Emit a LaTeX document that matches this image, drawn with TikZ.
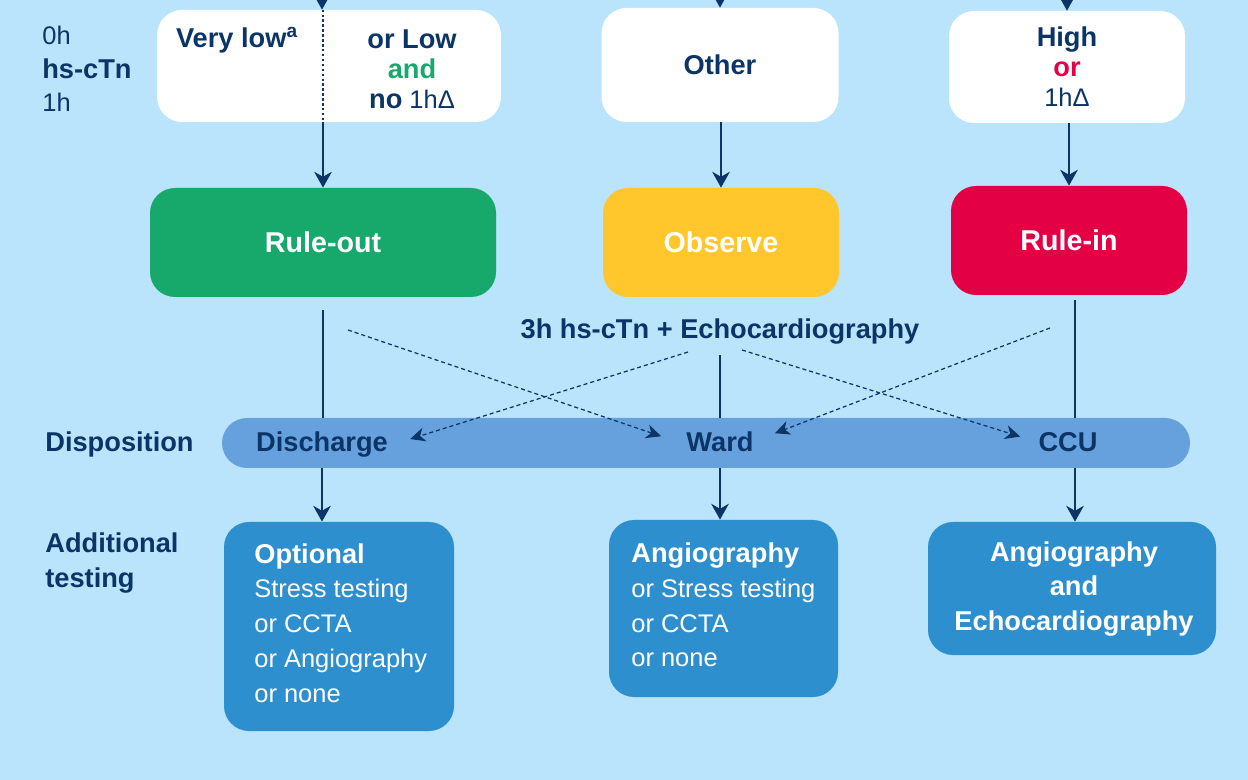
\documentclass[tikz,border=0pt]{standalone}
\usepackage{fontspec}
\setmainfont{Liberation Sans}
\usepackage{tikz}
\usetikzlibrary{arrows.meta}
\definecolor{bgblue}{HTML}{BAE3FC}
\definecolor{navy}{HTML}{0B3467}
\definecolor{outgreen}{HTML}{17A96C}
\definecolor{obsyellow}{HTML}{FFC72C}
\definecolor{inred}{HTML}{E30045}
\definecolor{barblue}{HTML}{66A1DE}
\definecolor{testblue}{HTML}{2E8FCF}
\newdimen\px \px=0.02cm
\def\txtsize{\fontsize{14.5}{17}\selectfont}
\def\boldsize{\fontsize{15.5}{17}\selectfont\bfseries}
\newcommand{\bt}[1]{{\boldsize #1}}

\begin{document}
\begin{tikzpicture}[x=0.02cm, y=-0.02cm,
    txt/.style={text=navy, inner sep=0pt, font=\txtsize},
    hdr/.style={txt, font=\boldsize},
    inbox/.style={rectangle, rounded corners=25\px, fill=white, inner sep=0pt, align=center, txt},
    result/.style={rectangle, rounded corners=25\px, inner sep=0pt, text=white,
        font=\fontsize{16.3}{19}\selectfont\bfseries, minimum width=236\px, minimum height=109\px},
    testbox/.style={rectangle, rounded corners=25\px, fill=testblue, inner sep=0pt},
    testtxt/.style={text=white, inner sep=0pt, font=\fontsize{14.5}{19.8}\selectfont},
    flow/.style={draw=navy, line width=1.2pt, -{Stealth[length=9pt, width=10pt, inset=2.8pt]}},
    link/.style={draw=navy, line width=1.2pt},
    cross/.style={draw=navy, line width=0.7pt, dash pattern=on 2.3pt off 1.7pt,
        -{Stealth[length=8.5pt, width=8pt, inset=2.6pt]}}]
        \fill[bgblue] (0,0) rectangle (1248,780);
        \useasboundingbox (0,0) rectangle (1248,780);

        % row labels
        \node[txt, anchor=west] (zero) at (42,35) {0h};
        \node[hdr, anchor=west] (hs) at (42,69) {hs-cTn};
        \node[txt, anchor=west] (one) at (42,102) {1h};
        \node[hdr, anchor=base west] (disp) at (45,452) {Disposition};
        \node[hdr, anchor=west, align=left, font=\fontsize{15.5}{19.5}\selectfont\bfseries] (addl) at (45,563) {Additional\\testing};

        % 0h/1h categories
        \node[inbox, minimum width=344\px, minimum height=112\px] (lowhs) at (329,66) {};
        \node[hdr] (verylow) at (237,40) {Very low\textsuperscript{a}};
        \node[txt, align=center] (orlow) at (412,69) {\bt{or Low}\\\bt{\color{outgreen}and}\\\bt{no} 1hΔ};
        \node[inbox, minimum width=237\px, minimum height=114\px, font=\boldsize] (other) at (720,65) {Other};
        \node[inbox, minimum width=236\px, minimum height=112\px] (high) at (1067,67) {\bt{High}\\\bt{\color{inred}or}\\1hΔ};

        \node[result, fill=outgreen, minimum width=346\px] (ruleout) at (323,242.5) {Rule-out};
        \node[result, fill=obsyellow] (observe) at (721,242.5) {Observe};
        \node[result, fill=inred] (rulein) at (1069,240.5) {Rule-in};

        \node[hdr] (echo) at (720,332) {3h hs-cTn + Echocardiography};

        % disposition bar
        \node[rectangle, rounded corners=25\px, fill=barblue, minimum width=968\px, minimum height=50\px] (bar) at (706,443) {};
        \node[hdr, anchor=base] (discharge) at (322,452) {Discharge};
        \node[hdr, anchor=base] (ward) at (720,452) {Ward};
        \node[hdr, anchor=base] (ccu) at (1068,452) {CCU};

        % additional testing
        \node[testbox, minimum width=230\px, minimum height=209\px] (optbox) at (339,626.5) {};
        \node[testtxt, anchor=west, align=left] (opttxt) at (254,623)
            {\bt{Optional}\\Stress testing\\or CCTA\\or Angiography\\or none};
        \node[testbox, minimum width=229\px, minimum height=177\px] (wardbox) at (723.5,608.5) {};
        \node[testtxt, anchor=west, align=left] (wardtxt) at (631,605)
            {\bt{Angiography}\\or Stress testing\\or CCTA\\or none};
        \node[testbox, minimum width=288\px, minimum height=133\px] (ccubox) at (1072,588.5) {};
        \node[testtxt, align=center, font=\fontsize{15.5}{19.8}\selectfont\bfseries] (ccutxt) at (1074,589)
            {Angiography\\and\\Echocardiography};

        \draw[navy, line width=0.6pt, dash pattern=on 1.4pt off 1.4pt] (lowhs.north -| ruleout) -- (lowhs.south -| ruleout);

        % connectors
        \coordinate (in1) at (322,-20);
        \coordinate (in2) at (720,-20);
        \coordinate (in3) at (1067,-20);
        \draw[flow] (in1) -- (in1 |- lowhs.north);
        \draw[flow] (in2) -- (in2 |- other.north);
        \draw[flow] (in3) -- (in3 |- high.north);
        \draw[flow] (ruleout |- lowhs.south) -- (ruleout.north);
        \draw[flow] (observe |- other.south) -- (observe.north);
        \draw[flow] (rulein |- high.south) -- (rulein.north);

        \coordinate (ccucol) at (1075,443);
        \draw[link, shorten <=13\px] (ruleout.south) -- (ruleout.south |- bar.north);
        \draw[link, shorten <=10\px] (echo.south -| ward) -- (ward |- bar.north);
        \draw[link] (rulein.south -| ccucol) ++(0,5) -- (ccucol |- bar.north);

        \draw[flow] (discharge |- bar.south) -- (discharge |- optbox.north);
        \draw[flow] (ward |- bar.south) -- (ward |- wardbox.north);
        \draw[flow] (ccucol |- bar.south) -- (ccucol |- ccubox.north);

        \coordinate (d1) at (348,330);
        \coordinate (d2) at (688,352);
        \coordinate (d3) at (742,350);
        \coordinate (d4) at (1050,328);
        \draw[cross] (d1) -- ([xshift=-25\px, yshift=6\px]ward.west);
        \draw[cross] (d2) -- ([xshift=22\px, yshift=6\px]discharge.east);
        \draw[cross] (d3) -- ([xshift=-18\px, yshift=6\px]ccu.west);
        \draw[cross] (d4) -- ([xshift=21\px, yshift=9\px]ward.east);
    \end{tikzpicture}
\end{document}
